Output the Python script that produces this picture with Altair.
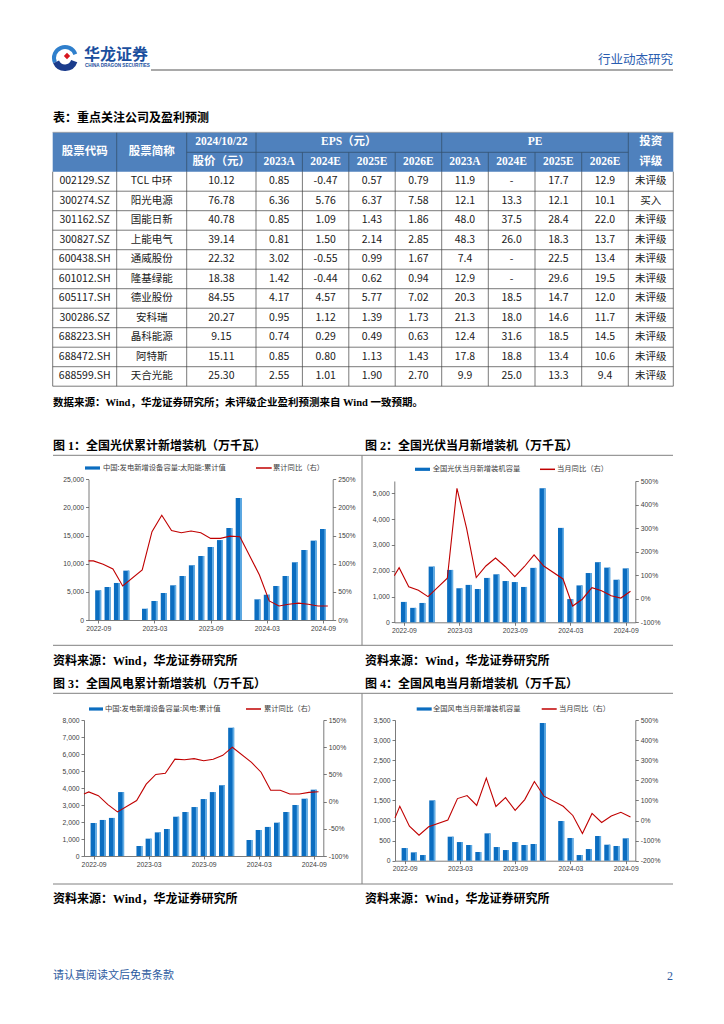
import altair as alt
import pandas as pd

W, H = 708, 1000
OX, OY = 8, 8
CJK = "Noto Sans CJK SC"
SERIF = "Liberation Serif, Noto Sans CJK SC"
SANS = "Liberation Sans, Noto Sans CJK SC"
BLUE = "#0b6dc0"
LIGHT = "#63aee6"
RED = "#c00000"
GRAY = "#808080"
HEAD = "#4f81bd"

# ---------------- table values ----------------
codes = ["002129.SZ", "300274.SZ", "301162.SZ", "300827.SZ", "600438.SH", "601012.SH",
         "605117.SH", "300286.SZ", "688223.SH", "688472.SH", "688599.SH"]
names = ["TCL 中环", "阳光电源", "国能日新", "上能电气", "通威股份", "隆基绿能",
         "德业股份", "安科瑞", "晶科能源", "阿特斯", "天合光能"]
price = [10.12, 76.78, 40.78, 39.14, 22.32, 18.38, 84.55, 20.27, 9.15, 15.11, 25.30]
eps23 = [0.85, 6.36, 0.85, 0.81, 3.02, 1.42, 4.17, 0.95, 0.74, 0.85, 2.55]
eps24 = [-0.47, 5.76, 1.09, 1.50, -0.55, -0.44, 4.57, 1.12, 0.29, 0.80, 1.01]
eps25 = [0.57, 6.37, 1.43, 2.14, 0.99, 0.62, 5.77, 1.39, 0.49, 1.13, 1.90]
eps26 = [0.79, 7.58, 1.86, 2.85, 1.67, 0.94, 7.02, 1.73, 0.63, 1.43, 2.70]
pe23 = [11.9, 12.1, 48.0, 48.3, 7.4, 12.9, 20.3, 21.3, 12.4, 17.8, 9.9]
pe24 = [None, 13.3, 37.5, 26.0, None, None, 18.5, 18.0, 31.6, 18.8, 25.0]
pe25 = [17.7, 12.1, 28.4, 18.3, 22.5, 29.6, 14.7, 14.6, 18.5, 13.4, 13.3]
pe26 = [12.9, 10.1, 22.0, 13.7, 13.4, 19.5, 12.0, 11.7, 14.5, 10.6, 9.4]
ratings = ["未评级", "买入", "未评级", "未评级", "未评级", "未评级",
           "未评级", "未评级", "未评级", "未评级", "未评级"]
years = ["2023A", "2024E", "2025E", "2026E"]

# ---------------- chart values ----------------
months = ["2022-09", "2022-10", "2022-11", "2022-12", "2023-01", "2023-02", "2023-03",
          "2023-04", "2023-05", "2023-06", "2023-07", "2023-08", "2023-09", "2023-10",
          "2023-11", "2023-12", "2024-01", "2024-02", "2024-03", "2024-04", "2024-05",
          "2024-06", "2024-07", "2024-08", "2024-09"]

pv_cum = [5270, 5860, 6580, 8770, None, 2000, 3380, 4800, 6160, 7820, 9720, 11370, 12970,
          14200, 16350, 21680, None, 3670, 4500, 6040, 7820, 10250, 12440, 14100, 16170]
pv_cum_yoy = [105, 99, 90.6, 60.4, None, 89, 157, 186, 159, 155, 158, 155, 145, 145, 149,
              148, None, 80, 34, 25, 28, 30, 28, 25, 25]
pv_cum_yoy_edge = 105

pv_mon = [790, 560, 750, 2160, None, 2030, 1320, 1450, 1290, 1720, 1860, 1600, 1560, 1370,
          2110, 5200, None, 3660, 900, 1430, 1910, 2330, 2120, 1650, 2090]
pv_mon_yoy = [132, 51, 36, 9, None, 87, 469, 299, 90, 139, 173, 137, 94, 137, 186, 139,
              None, 84, -31, -2, 47, 34, 13, 3, 32]
pv_mon_yoy_edge = 98

wd_cum = [1940, 2120, 2240, 3760, None, 590, 1020, 1390, 1590, 2310, 2590, 2880, 3350,
          3760, 4160, 7550, None, 940, 1530, 1710, 1960, 2590, 3000, 3370, 3900]
wd_cum_yoy = [17.8, 11, -5.5, -19, None, 2, 32, 50, 52, 78, 77, 79, 75, 78, 85, 100, None,
              72, 54, 21, 21, 14, 14, 17, 18]
wd_cum_yoy_edge = 14

wd_mon = [315, 207, 141, 1500, None, 597, 464, 390, 216, 680, 340, 265, 464, 390, 415, 3425,
          None, 987, 564, 141, 290, 614, 398, 365, 556]
wd_mon_yoy = [71, -28, -73, -31, None, 2, 109, 124, 75, 211, 70, 114, 50, 104, 194, 121,
              None, 71, 25, -65, 35, -10, 22, 41, 18]
wd_mon_yoy_edge = 13


def X(v):
    return v - OX


def Y(v):
    return v - OY


def text_layer(items, size, weight="normal", color="#000000", font=CJK, align="left"):
    df = pd.DataFrame([{"t": t, "x": X(x), "y": Y(y)} for t, x, y in items])
    return alt.Chart(df).mark_text(fontSize=size, fontWeight=weight, color=color, font=font,
                                   align=align, baseline="middle").encode(
        x=alt.X("x:Q", scale=None, axis=None),
        y=alt.Y("y:Q", scale=None, axis=None),
        text="t:N")


def rule_layer(segs, color, width):
    df = pd.DataFrame([{"x": X(a), "y": Y(b), "x2": X(c), "y2": Y(d)} for a, b, c, d in segs])
    return alt.Chart(df).mark_rule(color=color, strokeWidth=width).encode(
        x=alt.X("x:Q", scale=None, axis=None), y=alt.Y("y:Q", scale=None, axis=None),
        x2="x2:Q", y2="y2:Q")


def rect_layer(boxes, color):
    df = pd.DataFrame([{"x": X(a), "y": Y(b), "x2": X(c), "y2": Y(d)} for a, b, c, d in boxes])
    return alt.Chart(df).mark_rect(color=color).encode(
        x=alt.X("x:Q", scale=None, axis=None), y=alt.Y("y:Q", scale=None, axis=None),
        x2="x2:Q", y2="y2:Q")


layers = []

# ---------------- page header ----------------
one = pd.DataFrame({"a": [0]})
layers.append(alt.Chart(one).mark_arc(radius=13, radius2=9, theta=4.3, theta2=7.5,
                                      color="#2f7fcc").encode(x=alt.value(X(65)), y=alt.value(Y(58))))
layers.append(alt.Chart(one).mark_arc(radius=13, radius2=6.5, theta=1.9, theta2=4.3,
                                      color="#1b3c8c").encode(x=alt.value(X(65)), y=alt.value(Y(58))))
layers.append(alt.Chart(one).mark_point(shape="diamond", filled=True, size=40, color="#d7161e",
                                        opacity=1).encode(x=alt.value(X(67)), y=alt.value(Y(56))))
layers.append(text_layer([("华龙证券", 84, 55)], 16, "bold", "#1b4f9e"))
layers.append(text_layer([("CHINA DRAGON SECURITIES", 85, 66)], 4.6, "bold", "#1b4f9e", SANS))
layers.append(text_layer([("行业动态研究", 673, 60)], 12.5, "normal", "#2a5db0", CJK, "right"))
layers.append(rule_layer([(151, 70, 673, 70)], "#8c8c8c", 1.6))

# ---------------- table ----------------
edges = [52.7, 116.7, 186.7, 256.0, 302.4, 348.8, 395.2, 441.7, 488.3, 535.0, 581.7, 628.3, 673.3]
tx = alt.Scale(domain=list(range(13)), range=[X(e) for e in edges], nice=False, zero=False)
thy = alt.Scale(domain=[0, 1, 2], range=[Y(132.3), Y(152.3), Y(171.7)], nice=False, zero=False)
tby = alt.Scale(domain=[0, 11], range=[Y(171.7), Y(386.2)], nice=False, zero=False)


def table_rect(boxes, yscale, color):
    df = pd.DataFrame([{"x": a, "y": b, "x2": c, "y2": d} for a, b, c, d in boxes])
    return alt.Chart(df).mark_rect(color=color).encode(
        x=alt.X("x:Q", scale=tx, axis=None), y=alt.Y("y:Q", scale=yscale, axis=None),
        x2="x2:Q", y2="y2:Q")


def table_rules(segs, yscale, color, width):
    df = pd.DataFrame([{"x": a, "y": b, "x2": c, "y2": d} for a, b, c, d in segs])
    return alt.Chart(df).mark_rule(color=color, strokeWidth=width).encode(
        x=alt.X("x:Q", scale=tx, axis=None), y=alt.Y("y:Q", scale=yscale, axis=None),
        x2="x2:Q", y2="y2:Q")


def table_text(items, yscale, size, weight, color, font):
    df = pd.DataFrame([{"t": t, "cx": c, "cy": r} for t, c, r in items])
    return alt.Chart(df).mark_text(fontSize=size, fontWeight=weight, color=color, font=font,
                                   align="center", baseline="middle").encode(
        x=alt.X("cx:Q", scale=tx, axis=None), y=alt.Y("cy:Q", scale=yscale, axis=None),
        text="t:N")


layers.append(table_rect([(0, 0, 12, 2)], thy, HEAD))
head_segs = [(e, 0, e, 2) for e in [1, 2, 3, 7, 11]]
head_segs += [(e, 1, e, 2) for e in [4, 5, 6, 8, 9, 10]]
head_segs += [(2, 1, 11, 1)]
layers.append(table_rules(head_segs, thy, "#34506f", 0.8))
layers.append(table_rules([(0, 0, 12, 0)], thy, "#a0a0a0", 0.8))
body_segs = [(e, 0, e, 11) for e in range(13)] + [(0, r, 12, r) for r in range(1, 12)]
layers.append(table_rules(body_segs, tby, "#404040", 0.7))

head_items = [("股票代码", 0.5, 1.0), ("股票简称", 1.5, 1.0), ("2024/10/22", 2.5, 0.5),
              ("股价（元）", 2.5, 1.5), ("EPS（元）", 5.0, 0.5), ("PE", 9.0, 0.5),
              ("投资", 11.5, 0.5), ("评级", 11.5, 1.5)]
head_items += [(y_, 3.5 + k, 1.5) for k, y_ in enumerate(years)]
head_items += [(y_, 7.5 + k, 1.5) for k, y_ in enumerate(years)]
layers.append(table_text(head_items, thy, 11.5, "bold", "#ffffff", SERIF))


def fmt(v, d):
    return "-" if v is None else f"{v:.{d}f}"


columns = [codes, names, [fmt(v, 2) for v in price],
           [fmt(v, 2) for v in eps23], [fmt(v, 2) for v in eps24],
           [fmt(v, 2) for v in eps25], [fmt(v, 2) for v in eps26],
           [fmt(v, 1) for v in pe23], [fmt(v, 1) for v in pe24],
           [fmt(v, 1) for v in pe25], [fmt(v, 1) for v in pe26], ratings]
body_items = []
for c, vals in enumerate(columns):
    for r, t in enumerate(vals):
        body_items.append((t, c + 0.5, r + 0.5))
layers.append(table_text(body_items, tby, 10.5, "normal", "#1a1a1a", CJK))

# ---------------- titles and frames ----------------
layers.append(text_layer([("表：重点关注公司及盈利预测", 53, 118)], 12, "bold", "#000000", SERIF))
layers.append(text_layer([("数据来源：Wind，华龙证券研究所；未评级企业盈利预测来自 Wind 一致预期。", 53, 403)],
                         10.5, "bold", "#000000", SERIF))
layers.append(text_layer([("图 1：全国光伏累计新增装机（万千瓦）", 53, 446),
                          ("图 2：全国光伏当月新增装机（万千瓦）", 365, 446),
                          ("图 3：全国风电累计新增装机（万千瓦）", 53, 684),
                          ("图 4：全国风电当月新增装机（万千瓦）", 365, 684),
                          ("资料来源：Wind，华龙证券研究所", 53, 661),
                          ("资料来源：Wind，华龙证券研究所", 365, 661),
                          ("资料来源：Wind，华龙证券研究所", 53, 899),
                          ("资料来源：Wind，华龙证券研究所", 365, 899)],
                         12, "bold", "#000000", SERIF))
layers.append(rule_layer([(53, 455.3, 673, 455.3), (53, 645.3, 673, 645.3),
                          (53, 693.3, 673, 693.3), (53, 884, 673, 884),
                          (362, 455.3, 362, 645.3), (362, 693.3, 362, 884)], GRAY, 1))
layers.append(text_layer([("请认真阅读文后免责条款", 53, 976)], 11, "normal", "#2c5aa0", CJK))
layers.append(text_layer([("2", 673, 976)], 12, "normal", "#2c5aa0", SERIF, "right"))

# ---------------- charts ----------------
AX = dict(domainColor="#595959", domainWidth=0.8, tickColor="#595959", tickWidth=0.8,
          tickSize=3, labelFont="Liberation Sans", labelFontSize=6.8, labelColor="#404040",
          grid=False, labelPadding=2, labelFlush=False, labelOverlap=False)
month_expr = "[" + ",".join("'" + m + "'" for m in months) + "][datum.value]"


def panel(bar_vals, line_vals, edge_val, x0, x1, yb, yt, ldom, lticks, rdom, rticks):
    xs = alt.Scale(domain=[-0.5, 24.5], range=[X(x0), X(x1)], nice=False, zero=False)
    yl = alt.Scale(domain=ldom, range=[Y(yb), Y(yt)], nice=False, zero=False)
    yr = alt.Scale(domain=rdom, range=[Y(yb), Y(yt)], nice=False, zero=False)
    bdf = pd.DataFrame({"i": list(range(25)), "v": bar_vals}).dropna()
    ldf = pd.DataFrame({"i": [-0.5] + list(range(25)), "v": [edge_val] + line_vals}).dropna()
    xaxis = alt.Axis(orient="bottom", offset=Y(yb) - H, values=[0, 6, 12, 18, 24],
                     labelExpr=month_expr, **AX)
    laxis = alt.Axis(orient="left", offset=-X(x0), values=lticks, format=",d", **AX)
    raxis = alt.Axis(orient="right", offset=X(x1) - W, values=rticks,
                     labelExpr="datum.value + '%'", **AX)
    bars = alt.Chart(bdf).mark_bar(size=6, color=BLUE, orient="vertical").encode(
        x=alt.X("i:Q", scale=xs, axis=xaxis, title=None),
        y=alt.Y("v:Q", scale=yl, axis=laxis, title=None))
    hi = alt.Chart(bdf).mark_bar(size=1.6, color=LIGHT, xOffset=2.2, orient="vertical").encode(
        x=alt.X("i:Q", scale=xs, axis=None), y=alt.Y("v:Q", scale=yl, axis=None))
    line = alt.Chart(ldf).mark_line(color=RED, strokeWidth=1.1).encode(
        x=alt.X("i:Q", scale=xs, axis=None),
        y=alt.Y("v:Q", scale=yr, axis=raxis, title=None))
    return [bars, hi, line]


layers += panel(pv_cum, pv_cum_yoy, pv_cum_yoy_edge, 88.5, 332.7, 620, 479.3,
                [0, 25000], [0, 5000, 10000, 15000, 20000, 25000],
                [0, 250], [0, 50, 100, 150, 200, 250])
layers += panel(pv_mon, pv_mon_yoy, pv_mon_yoy_edge, 394.3, 635.3, 622.3, 481,
                [0, 5478], [0, 1000, 2000, 3000, 4000, 5000],
                [-100, 500], [-100, 0, 100, 200, 300, 400, 500])
layers += panel(wd_cum, wd_cum_yoy, wd_cum_yoy_edge, 84, 323.3, 856, 720,
                [0, 8000], [0, 1000, 2000, 3000, 4000, 5000, 6000, 7000, 8000],
                [-100, 150], [-100, -50, 0, 50, 100, 150])
layers += panel(wd_mon, wd_mon_yoy, wd_mon_yoy_edge, 395, 635.3, 860.7, 720,
                [0, 3500], [0, 500, 1000, 1500, 2000, 2500, 3000, 3500],
                [-200, 500], [-200, -100, 0, 100, 200, 300, 400, 500])

# ---------------- legends ----------------
legs = [
    (85, 100, 103, 256, 271.7, 273, 468, "中国:发电新增设备容量:太阳能:累计值", "累计同比（右）"),
    (415, 430, 432.7, 540, 555, 557, 469.3, "全国光伏当月新增装机容量", "当月同比（右）"),
    (89, 103, 105, 246, 261, 264, 709, "中国:发电新增设备容量:风电:累计值", "累计同比（右）"),
    (416.7, 431.7, 433, 541.7, 556.7, 559, 709, "全国风电当月新增装机容量", "当月同比（右）"),
]
layers.append(rect_layer([(a, y - 1.6, b, y + 1.6) for a, b, _, _, _, _, y, _, _ in legs], BLUE))
layers.append(rule_layer([(c, y, d, y) for _, _, _, c, d, _, y, _, _ in legs], RED, 1.5))
leg_txt = []
for a, b, t1x, c, d, t2x, y, t1, t2 in legs:
    leg_txt += [(t1, t1x, y), (t2, t2x, y)]
layers.append(text_layer(leg_txt, 7.3, "normal", "#404040", CJK))

chart = alt.layer(*layers).resolve_scale(
    x="independent", y="independent", color="independent"
).properties(
    width=W, height=H, autosize=alt.AutoSizeParams(type="none"), padding=0, background="white"
).configure_view(stroke=None)

chart.save("out.html", embed_options={"renderer": "svg", "actions": False})
